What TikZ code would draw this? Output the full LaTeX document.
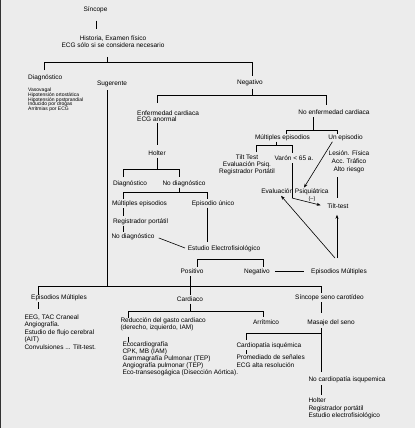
\documentclass[tikz,border=0pt]{standalone}
\usepackage{fontspec}
\setmainfont{Liberation Sans}
\usetikzlibrary{arrows.meta}
\definecolor{bgc}{RGB}{236,236,236}
\begin{document}
\begin{tikzpicture}[x=1pt,y=-1pt,
  txt/.style={font=\fontsize{6.5}{7}\selectfont, inner sep=0.8pt, text height=4.8pt, text depth=1.4pt},
  blk/.style={font=\fontsize{6.5}{#1}\selectfont, inner sep=0.8pt, align=left},
  sm/.style={font=\fontsize{5}{4.8}\selectfont, inner sep=0.8pt, align=left},
  ln/.style={line width=0.9pt, black},
  thn/.style={line width=0.6pt, black},
  arr/.style={line width=0.6pt, black, -{Stealth[length=4pt,width=3pt]}}]
\fill[bgc] (0,0) rectangle (415,428);
\useasboundingbox (0,0) rectangle (415,428);
\draw[line width=1pt, black!80] (0.5,0) -- (0.5,428);

% ---------- nodes ----------
\node[txt] (sincope) at (95.5,9.7) {Síncope};
\node[blk=7, align=center] (hist) at (113,42) {Historia, Examen físico\\ECG sólo si se considera necesario};
\node[txt, anchor=west] (diag1) at (27.2,77.7) {Diagnóstico};
\node[sm, anchor=west] (diaglist) at (27.2,99.8) {Vasovagal\\Hipotensión ortostática\\Hipotensión postprandial\\Inducido por drogas\\Arritmias por ECG};
\node[txt] (sug) at (112,83.7) {Sugerente};
\node[txt] (neg1) at (250,82.7) {Negativo};
\node[blk=5.8, anchor=west] (enf) at (136.2,116) {Enfermedad cardiaca\\ECG anormal};
\node[txt] (noenf) at (334,112.7) {No enfermedad cardiaca};
\node[txt] (holter) at (157,153.7) {Holter};
\node[txt] (diag2) at (130,183.7) {Diagnóstico};
\node[txt] (nodiag) at (184,183.7) {No diagnóstico};
\node[txt] (mult1) at (139.5,203.7) {Múltiples episodios};
\node[txt] (unico) at (213,203.7) {Episodio único};
\node[txt] (regport) at (140.5,221.7) {Registrador portátil};
\node[txt] (nodiag2) at (133,236.7) {No diagnóstico};
\node[txt] (estudio) at (224,248.7) {Estudio Electrofisiológico};
\node[txt] (pos) at (192,271.7) {Positivo};
\node[txt] (neg2) at (257,271.7) {Negativo};
\node[txt] (epm) at (339,271.7) {Episodios Múltiples};
\node[txt] (mult2) at (282.5,137.7) {Múltiples episodios};
\node[txt] (unep) at (345.5,137.7) {Un episodio};
\node[blk=7, align=center] (tiltblk) at (247,165) {Tilt Test\\Evaluación Psiq.\\Registrador Portátil};
\node[txt] (varon) at (294,158.7) {Varón < 65 a.};
\node[blk=8, align=center] (lesion) at (349,162) {Lesión. Física\\Acc. Tráfico\\Alto riesgo};
\node[txt] (evalpsi) at (295,191.7) {Evaluación Psiquiátrica};
\node[txt, font=\fontsize{5.5}{6}\selectfont] (minus) at (312,198.5) {(–)};
\node[txt] (tilttest) at (338,206.7) {Tilt-test};

\node[txt] (epm2) at (59,297.7) {Episodios Múltiples};
\node[blk=7.5, anchor=west] (eeg) at (23.5,332) {EEG, TAC Craneal\\Angiografía.\\Estudio de flujo cerebral\\(AIT)\\Convulsiones ... Tilt-test.};
\node[txt] (card) at (190,299.7) {Cardiaco};
\node[blk=7, anchor=west] (red) at (119.5,324.5) {Reducción del gasto cardiaco\\(derecho, izquierdo, IAM)};
\node[blk=5.6, anchor=west] (eco) at (121.5,359) {Ecocardiografía\\CPK, MB (IAM)\\Gammagrafía Pulmonar (TEP)\\Angiografía pulmonar (TEP)\\Eco-transesogágica (Disección Aórtica).};
\node[txt] (arrit) at (266,322.7) {Arrítmico};
\node[txt] (scar) at (329.5,297.7) {Síncope seno carotídeo};
\node[txt] (masaje) at (331,322.7) {Masaje del seno};
\node[txt, anchor=west] (cardisq) at (235.5,345.7) {Cardiopatía isquémica};
\node[blk=8, anchor=west] (prom) at (235.5,361) {Promediado de señales\\ECG alta resolución};
\node[txt, anchor=west] (nocard) at (307.5,379.7) {No cardiopatía isqupemica};
\node[blk=7.5, anchor=west] (holtlist) at (307.5,408.5) {Holter\\Registrador portátil\\Estudio electrofisiológico};

% ---------- junction coordinates ----------
\coordinate (jA) at (107,62);
\coordinate (jB) at (252,95);
\coordinate (jC) at (157,169);
\coordinate (jD) at (179,192);
\coordinate (jE) at (313,130);
\coordinate (jF) at (276,145);
\coordinate (jG) at (292,198);
\coordinate (jH) at (107,286);
\coordinate (jI) at (190,311);
\coordinate (jK) at (321,333);
\coordinate (ea) at (335,258);
\coordinate (eb) at (337,258);

% ---------- connectors ----------
\draw[ln] (96,20.7) -- (96,29);
\draw[ln] (107,57) -- (jA);
\draw[ln] (44,70) -- (44,62) -- (252,62) -- (252,76);
\draw[ln] (107,90) -- (jH);
\draw[ln] (252,88.5) -- (jB);
\draw[ln] (157,103) -- (157,95) -- (326,95) -- (326,105);
\draw[ln] (157,123) -- (157,145);
\draw[ln] (157,157.5) -- (jC);
\draw[ln] (123,177) -- (123,169) -- (179,169) -- (179,177);
\draw[ln] (179,187.5) -- (jD);
\draw[ln] (123,199) -- (123,192) -- (207,192) -- (207,199);
\draw[thn] (123,208) -- (123,216);
\draw[thn] (123,225.5) -- (123,232);
\draw[ln] (207,207.5) -- (207,242);
\draw[thn, shorten <=3.5pt, shorten >=2pt] (nodiag2.east) -- (estudio.west);
\draw[ln] (197,267) -- (197,259) -- (263,259) -- (263,267);
\draw[ln, shorten <=4pt, shorten >=6pt] (neg2.east) -- (epm.west);

\draw[ln] (313,117) -- (jE);
\draw[ln] (286,133.5) -- (286,130) -- (337,130) -- (337,133.5);
\draw[ln] (276,141.5) -- (jF);
\draw[ln] (256,152) -- (256,145) -- (292,145) -- (292,152.5);
\draw[ln] (292,163) -- (jG);
\draw[arr, shorten >=6pt] (jG) -- (tilttest.west);
\draw[ln] (337,177) -- (337,198);
\draw[arr] ([xshift=5pt]unep.south west) -- ([xshift=9pt]evalpsi.north);
\draw[arr] (ea) -- ([xshift=-14pt]evalpsi.south);
\draw[arr, shorten >=4pt] (eb) -- (eb |- tilttest.south);

\draw[ln] (38,295) -- (38,286) -- (321,286) -- (321,293);
\draw[ln] (190,276) -- (190,294.5);
\draw[ln] (38,302) -- (38,309);
\draw[ln] (190,303.5) -- (jI);
\draw[ln] (128,318) -- (128,311) -- (263,311) -- (263,317);
\draw[ln] (128,336.5) -- (128,342);
\draw[ln] (321,302) -- (321,313);
\draw[ln] (321,328) -- (321,372);
\draw[ln] (246,340) -- (246,333) -- (jK);
\draw[thn] (246,350) -- (246,354);
\draw[ln] (321,385) -- (321,395);
\end{tikzpicture}
\end{document}
